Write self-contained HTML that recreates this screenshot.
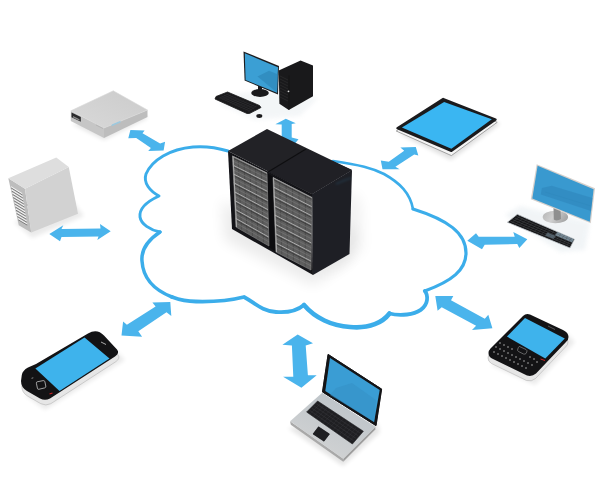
<!DOCTYPE html>
<html><head><meta charset="utf-8">
<style>
html,body{margin:0;padding:0;background:#fff;width:600px;height:480px;overflow:hidden;font-family:"Liberation Sans",sans-serif;}
svg{display:block;}
</style></head>
<body>
<svg width="600" height="480" viewBox="0 0 600 480">
<defs>
  <filter id="blur6" x="-50%" y="-50%" width="200%" height="200%"><feGaussianBlur stdDeviation="7"/></filter>
  <filter id="blur1" x="-50%" y="-50%" width="200%" height="200%"><feGaussianBlur stdDeviation="1"/></filter>
  <filter id="blur2" x="-50%" y="-50%" width="200%" height="200%"><feGaussianBlur stdDeviation="2"/></filter>
  <linearGradient id="pizzatop" x1="0" y1="1" x2="1" y2="0"><stop offset="0" stop-color="#d9d9d9"/><stop offset="1" stop-color="#cbcbcb"/></linearGradient>
  <linearGradient id="lapbase" x1="0" y1="1" x2="0.6" y2="0"><stop offset="0" stop-color="#d6d6d6"/><stop offset="1" stop-color="#bcc3c8"/></linearGradient>
  <linearGradient id="standg" x1="0" y1="0" x2="1" y2="0.3"><stop offset="0" stop-color="#b5b5b5"/><stop offset="0.5" stop-color="#d0d0d0"/><stop offset="1" stop-color="#a8a8a8"/></linearGradient>
  <linearGradient id="sideg" x1="0" y1="0" x2="1" y2="0">
    <stop offset="0" stop-color="#1f2024"/><stop offset="1" stop-color="#26272c"/>
  </linearGradient>
</defs>
<rect width="600" height="480" fill="#fff"/>
<!-- rack shadow -->
<polygon points="222,200 300,250 355,225 350,260 313,285 225,240" fill="#000" opacity="0.08" filter="url(#blur6)"/>
<polygon points="345,190 360,200 362,250 318,280 345,250" fill="#000" opacity="0.06" filter="url(#blur6)"/>
<path fill="none" stroke="#3badea" stroke-width="2.9" stroke-linejoin="round" stroke-linecap="round" d="M228,151 C218,148 205,146 193,147 C170,149 152,160 146,174 C143,183 150,191 159,196 C146,202 139,209 140,217 C141,224 150,230 160,232"/>
<path fill="none" stroke="#3badea" stroke-width="3.5" stroke-linejoin="round" stroke-linecap="round" d="M160,232 C148,240 141,250 142,261 C143,278 154,290 172,297"/>
<path fill="none" stroke="#3badea" stroke-width="3.8" stroke-linejoin="round" stroke-linecap="round" d="M172,297 C180,300 188,301.5 196,301.5 C215,302 232,300 244,297 C255,303 262,311 276,312 C288,313 298,310 304,305"/>
<path fill="none" stroke="#3badea" stroke-width="4.6" stroke-linejoin="round" stroke-linecap="round" d="M304,305 C315,318 332,326 350,327 C370,329 383,322 389.5,313.5"/>
<path fill="none" stroke="#3badea" stroke-width="3.8" stroke-linejoin="round" stroke-linecap="round" d="M389.5,313.5 C395,315 401,315 407,314.5 C418,313.5 426,308 427,300 C427.5,296 426.5,293 424.8,291"/>
<path fill="none" stroke="#3badea" stroke-width="3.2" stroke-linejoin="round" stroke-linecap="round" d="M424.8,291 C452,281 466,270 466,253 C466,233 448,220 413,209"/>
<path fill="none" stroke="#3badea" stroke-width="2.6" stroke-linejoin="round" stroke-linecap="round" d="M413,209 C410,193 400,183 384,174 C372,168 360,165 333,161"/>
<!-- desktop PC -->
<g id="desktop">
  <polygon points="222,96 262,90 318,98 300,116 255,120 220,104" fill="#dfe6ea" opacity="0.35" filter="url(#blur2)"/>
  <polygon points="216,96.5 227.5,92 259.5,105.5 261,107.5 249.5,113.5 247,113.5 215,99" fill="#1a1a1c" stroke="#1a1a1c" stroke-width="0.8" stroke-linejoin="round"/>
  <line x1="226.3" y1="94.2" x2="256.4" y2="107.1" stroke="#38383c" stroke-width="0.4"/>
  <line x1="224.0" y1="95.3" x2="254.2" y2="108.5" stroke="#38383c" stroke-width="0.4"/>
  <line x1="221.6" y1="96.4" x2="252.0" y2="110.0" stroke="#38383c" stroke-width="0.4"/>
  <line x1="219.5" y1="97.4" x2="250.0" y2="111.3" stroke="#38383c" stroke-width="0.4"/>
  <line x1="228.6" y1="93.9" x2="219.3" y2="98.4" stroke="#333337" stroke-width="0.35"/>
  <line x1="231.2" y1="94.9" x2="221.9" y2="99.6" stroke="#333337" stroke-width="0.35"/>
  <line x1="233.7" y1="96.0" x2="224.5" y2="100.8" stroke="#333337" stroke-width="0.35"/>
  <line x1="236.3" y1="97.1" x2="227.1" y2="102.0" stroke="#333337" stroke-width="0.35"/>
  <line x1="238.9" y1="98.2" x2="229.7" y2="103.2" stroke="#333337" stroke-width="0.35"/>
  <line x1="241.4" y1="99.3" x2="232.3" y2="104.4" stroke="#333337" stroke-width="0.35"/>
  <line x1="244.0" y1="100.4" x2="234.9" y2="105.6" stroke="#333337" stroke-width="0.35"/>
  <line x1="246.6" y1="101.5" x2="237.6" y2="106.8" stroke="#333337" stroke-width="0.35"/>
  <line x1="249.1" y1="102.6" x2="240.2" y2="108.0" stroke="#333337" stroke-width="0.35"/>
  <line x1="251.7" y1="103.7" x2="242.8" y2="109.2" stroke="#333337" stroke-width="0.35"/>
  <line x1="254.3" y1="104.8" x2="245.4" y2="110.4" stroke="#333337" stroke-width="0.35"/>
  <line x1="256.8" y1="105.8" x2="248.0" y2="111.6" stroke="#333337" stroke-width="0.35"/>
  <ellipse cx="259.3" cy="116" rx="3" ry="1.9" fill="#1a1a1c"/>
  <ellipse cx="260" cy="93" rx="8.8" ry="3.9" fill="#1a1a1c"/>
  <polygon points="258,82 262,83.5 262,93 258,93" fill="#1a1a1c"/>
  <polygon points="243.5,51.5 279,66 278,94.5 244.6,80.6" fill="#1c1c1e"/>
  <polygon points="244.8,53.3 278,67.2 277,92.8 245.6,80" fill="#3b9fd4"/>
  <polygon points="257.5,76.5 269,70.8 277.6,74.2 277.2,92.8" fill="#2f88bb" opacity="0.75"/>
  <polygon points="278.75,70.6 300.6,60.6 313,65.6 313,96.25 288.75,110 279.4,103.75" fill="#19191b"/>
  <line x1="289" y1="75.5" x2="289" y2="110" stroke="#111" stroke-width="0.6"/>
  <g stroke="#2c2c2e" stroke-width="0.7">
    <line x1="280" y1="76" x2="288" y2="80"/><line x1="280" y1="79" x2="288" y2="83"/>
    <line x1="280" y1="82" x2="288" y2="86"/><line x1="280" y1="85" x2="288" y2="89"/>
    <line x1="280" y1="88" x2="288" y2="92"/><line x1="280" y1="91" x2="288" y2="95"/>
    <line x1="280" y1="94" x2="288" y2="98"/><line x1="280" y1="97" x2="288" y2="101"/>
  </g>
  <circle cx="288.5" cy="91.3" r="0.9" fill="#ddd"/>
</g>

<!-- pizza box server -->
<g id="pizza">
  <polygon points="72,124 104,140 148,118 140,112" fill="#000" opacity="0.10" filter="url(#blur2)"/>
  <polygon points="70.8,110.8 104,128 104,138 70.8,121" fill="#c6c6c6"/>
  <polygon points="104,128 147.5,110 147.5,117 104,138" fill="#bdbdbd"/>
  <polygon points="70.8,110.8 113.3,90.8 147.5,110 104,128" fill="url(#pizzatop)" stroke="#dadada" stroke-width="0.6" stroke-linejoin="round"/>
  <polygon points="71.5,112.5 80.8,117 80.8,121.8 71.5,117.3" fill="#2a2a2c"/>
  <polygon points="73,116 79.5,119.2 79.5,120.8 73,117.6" fill="#8a8a8a"/>
  <line x1="96" y1="125" x2="103" y2="128.5" stroke="#aaa" stroke-width="0.6"/>
  <polygon points="111.7,124.5 120.5,120.8 120.5,122.6 111.7,126.3" fill="#9cc8de"/>
</g>

<!-- tower server -->
<g id="tower">
  <polygon points="14,222 32,238 84,216 72,200" fill="#000" opacity="0.08" filter="url(#blur2)"/>
  <polygon points="8.3,178.3 25,188.75 31.25,232.5 18.75,225.2" fill="#bdbdbd"/>
  <line x1="10.9" y1="186.8" x2="22.1" y2="193.7" stroke="#f2f2f2" stroke-width="1.3"/><line x1="11.1" y1="187.9" x2="22.2" y2="194.8" stroke="#6a6a6a" stroke-width="0.8"/><line x1="11.6" y1="189.9" x2="22.6" y2="196.7" stroke="#f2f2f2" stroke-width="1.3"/><line x1="11.8" y1="191.1" x2="22.7" y2="197.9" stroke="#6a6a6a" stroke-width="0.8"/><line x1="12.3" y1="193.1" x2="23.1" y2="199.8" stroke="#f2f2f2" stroke-width="1.3"/><line x1="12.5" y1="194.3" x2="23.2" y2="200.9" stroke="#6a6a6a" stroke-width="0.8"/><line x1="13.0" y1="196.3" x2="23.6" y2="202.8" stroke="#f2f2f2" stroke-width="1.3"/><line x1="13.2" y1="197.5" x2="23.7" y2="203.9" stroke="#6a6a6a" stroke-width="0.8"/><line x1="13.7" y1="199.5" x2="24.1" y2="205.8" stroke="#f2f2f2" stroke-width="1.3"/><line x1="13.9" y1="200.7" x2="24.2" y2="206.9" stroke="#6a6a6a" stroke-width="0.8"/><line x1="14.4" y1="202.7" x2="24.5" y2="208.9" stroke="#f2f2f2" stroke-width="1.3"/><line x1="14.6" y1="203.8" x2="24.7" y2="210.0" stroke="#6a6a6a" stroke-width="0.8"/><line x1="15.1" y1="205.8" x2="25.0" y2="211.9" stroke="#f2f2f2" stroke-width="1.3"/><line x1="15.3" y1="207.0" x2="25.2" y2="213.0" stroke="#6a6a6a" stroke-width="0.8"/><line x1="15.8" y1="209.0" x2="25.5" y2="214.9" stroke="#f2f2f2" stroke-width="1.3"/><line x1="16.0" y1="210.2" x2="25.7" y2="216.0" stroke="#6a6a6a" stroke-width="0.8"/><line x1="16.4" y1="212.2" x2="26.0" y2="217.9" stroke="#f2f2f2" stroke-width="1.3"/><line x1="16.7" y1="213.4" x2="26.2" y2="219.1" stroke="#6a6a6a" stroke-width="0.8"/><line x1="17.1" y1="215.4" x2="26.5" y2="221.0" stroke="#f2f2f2" stroke-width="1.3"/><line x1="17.4" y1="216.5" x2="26.7" y2="222.1" stroke="#6a6a6a" stroke-width="0.8"/><line x1="17.8" y1="218.6" x2="27.0" y2="224.0" stroke="#f2f2f2" stroke-width="1.3"/><line x1="18.1" y1="219.7" x2="27.2" y2="225.1" stroke="#6a6a6a" stroke-width="0.8"/>
  <polygon points="25,188.75 68.75,166.9 78,213.75 31.25,232.5" fill="#d2d2d2"/>
  <polygon points="8.3,178.3 56.25,157.5 68.75,166.9 25,188.75" fill="#dedede"/>
  <circle cx="27" cy="205" r="0.8" fill="#aaa"/>
</g>

<!-- tablet -->
<g id="tablet">
  <polygon points="398,133 451,160 500,124 490,118" fill="#000" opacity="0.12" filter="url(#blur2)"/>
  <polygon points="396.2,131 443.2,101 497.2,122.3 451.4,155.6" fill="#f4f4f4" stroke="#9a9a9a" stroke-width="0.9" stroke-linejoin="round"/>
  <polygon points="397.5,128.2 443.2,99 495.5,119.5 451.4,150.8" fill="#1b1b1d" stroke="#1b1b1d" stroke-width="2.4" stroke-linejoin="round"/>
  <polygon points="401.9,127.6 444.1,101.9 491.8,119.3 451.4,148.7" fill="#3ab6f2"/>
</g>

<!-- right monitor -->
<g id="imac">
  <polygon points="505,215 520,206 590,222 585,250 560,252" fill="#d8e2e8" opacity="0.35" filter="url(#blur2)"/>
  <ellipse cx="555.4" cy="217" rx="12.7" ry="6.2" fill="url(#standg)"/>
  <path d="M553.5,208 L560.5,209 L561,219 Q557,221.5 553.8,219.5 Z" fill="#8f8f8f"/>
  <polygon points="536.7,164.2 595,188.3 590.8,223.3 530.8,199.2" fill="#d6d0cc"/>
  <polygon points="537.6,165.8 593.6,189.2 589.8,221.8 532.3,198.4" fill="#3999cf"/>
  <polygon points="541.9,188 551.7,185.8 592.5,198 591,211 540.8,194.5" fill="#2f86ba" opacity="0.6"/>
  <line x1="545" y1="192" x2="591" y2="206" stroke="#2f86ba" stroke-width="0.8" opacity="0.5"/>
  <polygon points="517.3,214.3 574.5,239.2 570,248 507.3,222.3" fill="#141416" stroke="#c5ccd0" stroke-width="0.8" stroke-linejoin="round"/>
  <polygon points="557.1,232.1 573.7,239.3 572.1,242.5 554.9,235.2" fill="#8aa2b2" opacity="0.85"/>
  <polygon points="547.4,232.6 555.8,236.1 553.7,239.1 545.0,235.5" fill="#6d8494" opacity="0.7"/>
  <line x1="516.5" y1="216.4" x2="572.4" y2="240.5" stroke="#55595d" stroke-width="0.45"/>
  <line x1="514.5" y1="218.0" x2="571.5" y2="242.2" stroke="#55595d" stroke-width="0.45"/>
  <line x1="512.5" y1="219.6" x2="570.6" y2="244.0" stroke="#55595d" stroke-width="0.45"/>
  <line x1="510.5" y1="221.2" x2="569.7" y2="245.7" stroke="#55595d" stroke-width="0.45"/>
  <line x1="520.2" y1="216.2" x2="511.5" y2="223.4" stroke="#44474a" stroke-width="0.4"/>
  <line x1="523.6" y1="217.6" x2="515.1" y2="224.9" stroke="#44474a" stroke-width="0.4"/>
  <line x1="526.9" y1="219.1" x2="518.8" y2="226.4" stroke="#44474a" stroke-width="0.4"/>
  <line x1="530.3" y1="220.6" x2="522.5" y2="227.9" stroke="#44474a" stroke-width="0.4"/>
  <line x1="533.7" y1="222.0" x2="526.2" y2="229.4" stroke="#44474a" stroke-width="0.4"/>
  <line x1="537.1" y1="223.5" x2="529.8" y2="231.0" stroke="#44474a" stroke-width="0.4"/>
  <line x1="540.5" y1="225.0" x2="533.5" y2="232.5" stroke="#44474a" stroke-width="0.4"/>
  <line x1="543.8" y1="226.4" x2="537.2" y2="234.0" stroke="#44474a" stroke-width="0.4"/>
  <line x1="547.2" y1="227.9" x2="540.8" y2="235.5" stroke="#44474a" stroke-width="0.4"/>
  <line x1="550.6" y1="229.4" x2="544.5" y2="237.0" stroke="#44474a" stroke-width="0.4"/>
  <line x1="554.0" y1="230.8" x2="548.2" y2="238.5" stroke="#44474a" stroke-width="0.4"/>
  <line x1="557.4" y1="232.3" x2="551.9" y2="240.0" stroke="#44474a" stroke-width="0.4"/>
  <line x1="560.8" y1="233.8" x2="555.5" y2="241.5" stroke="#44474a" stroke-width="0.4"/>
  <line x1="564.1" y1="235.2" x2="559.2" y2="243.0" stroke="#44474a" stroke-width="0.4"/>
  <line x1="567.5" y1="236.7" x2="562.9" y2="244.5" stroke="#44474a" stroke-width="0.4"/>
  <line x1="570.9" y1="238.2" x2="566.6" y2="246.1" stroke="#44474a" stroke-width="0.4"/>
</g>
</g>

<!-- smartphone -->
<g id="phone">
  <polygon points="25,395 45,410 125,360 115,350" fill="#000" opacity="0.08" filter="url(#blur2)"/>
  <path transform="translate(0.8,5.2)" d="M36,364 L88,333.5 Q97,328 104,335.5 L117,349.5 Q120,353 115,356.5 L50,398.5 Q45,401 40,398.5 L27,391 Q21,387.5 21,381 L21.8,375 Q22.5,370.5 28,367.5 Z" fill="#e6e6e6" stroke="#b5b5b5" stroke-width="0.6"/>
  <path d="M36,364 L88,333.5 Q97,328 104,335.5 L117,349.5 Q120,353 115,356.5 L50,398.5 Q45,401 40,398.5 L27,391 Q21,387.5 21,381 L21.8,375 Q22.5,370.5 28,367.5 Z" fill="#131315"/>
  <polygon points="35.4,368.4 84.5,337.4 109.5,358.5 59.5,391" fill="#3eb3ec"/>
  <path d="M37.2,381.8 L43.2,380.6 Q44.6,380.4 44.9,381.8 L45.8,386.2 Q46,387.5 44.7,387.9 L38.8,389.3 Q37.6,389.5 37.4,388.2 L36.4,383.3 Q36.2,382 37.2,381.8 Z" fill="none" stroke="#dcdcdc" stroke-width="0.7"/>
  <line x1="31.5" y1="378.3" x2="33.3" y2="377.8" stroke="#bbb" stroke-width="0.7"/>
  <line x1="49.5" y1="394" x2="52.5" y2="393" stroke="#c22" stroke-width="1.2"/>
  <line x1="101" y1="342" x2="106" y2="344.5" stroke="#aaa" stroke-width="1"/>
</g>

<!-- blackberry -->
<g id="bb">
  <polygon points="490,365 535,385 575,342 565,332" fill="#000" opacity="0.08" filter="url(#blur2)"/>
  <path transform="translate(-0.5,5)" d="M490.5,348.5 L523,316 Q526,313 530,314.5 L563,330 Q568.5,332.5 568.5,337 Q568.5,340 566,342 L536,373.5 Q532,377 527,375.5 L492,358.5 Q488.5,356.5 488.5,353 Q488.5,350.5 490.5,348.5 Z" fill="#e6e6e6" stroke="#b5b5b5" stroke-width="0.6"/>
  <path d="M490.5,348.5 L523,316 Q526,313 530,314.5 L563,330 Q568.5,332.5 568.5,337 Q568.5,340 566,342 L536,373.5 Q532,377 527,375.5 L492,358.5 Q488.5,356.5 488.5,353 Q488.5,350.5 490.5,348.5 Z" fill="#131315"/>
  <polygon points="525,318 564.8,338.4 545.3,358.4 506.9,336.6" fill="#3eb3ec"/>
  <path d="M519.5,346.5 L526,349.5 Q527.5,350.5 526.8,352 L526,353.5 Q525,354.5 523.5,354 L518.5,351.5 Q517,350.5 517.8,349 L518.5,347.3 Q519,346.3 519.5,346.5 Z" fill="none" stroke="#999" stroke-width="0.6"/>
  <line x1="540.5" y1="359" x2="545" y2="360.5" stroke="#c22" stroke-width="1"/>
  <line x1="548" y1="326" x2="555" y2="329.5" stroke="#666" stroke-width="0.8"/>
  <g fill="#cfcfcf">
    <circle cx="500" cy="343" r="0.7"/><circle cx="504" cy="345" r="0.7"/><circle cx="508" cy="347" r="0.7"/><circle cx="512" cy="349" r="0.7"/>
    <circle cx="496" cy="347" r="0.7"/><circle cx="500" cy="349" r="0.7"/><circle cx="504" cy="351" r="0.7"/><circle cx="508" cy="353" r="0.7"/><circle cx="512" cy="355" r="0.7"/>
    <circle cx="494" cy="352" r="0.7"/><circle cx="498" cy="354" r="0.7"/><circle cx="502" cy="356" r="0.7"/><circle cx="506" cy="358" r="0.7"/><circle cx="510" cy="360" r="0.7"/>
    <circle cx="516" cy="357" r="0.7"/><circle cx="520" cy="359" r="0.7"/><circle cx="524" cy="361" r="0.7"/><circle cx="528" cy="363" r="0.7"/><circle cx="532" cy="365" r="0.7"/>
    <circle cx="514" cy="362" r="0.7"/><circle cx="518" cy="364" r="0.7"/><circle cx="522" cy="366" r="0.7"/><circle cx="526" cy="368" r="0.7"/>
    <circle cx="530" cy="357" r="0.7"/><circle cx="534" cy="359" r="0.7"/><circle cx="537" cy="362" r="0.7"/>
  </g>
</g>

<!-- laptop -->
<g id="laptop">
  <polygon points="288,428 343,466 380,432 376,420" fill="#000" opacity="0.10" filter="url(#blur2)"/>
  <polygon points="290.1,421.2 343.25,458.75 343.25,461.8 290.8,424.8" fill="#a9a9a9"/>
  <polygon points="343.25,458.75 375.3,426.7 375.3,429.5 343.25,461.8" fill="#9e9e9e"/>
  <polygon points="290.1,421.2 322.2,392.75 375.3,426.7 343.25,458.75" fill="url(#lapbase)"/>
  <polygon points="317.6,401 363.4,431.25 352.4,444 306.6,412" fill="#1f1f22" stroke="#1f1f22" stroke-width="0.6" stroke-linejoin="round"/>
  <line x1="316.3" y1="403.8" x2="360.3" y2="433.2" stroke="#3c3c40" stroke-width="0.45"/><line x1="314.1" y1="406.0" x2="358.1" y2="435.7" stroke="#3c3c40" stroke-width="0.45"/><line x1="311.9" y1="408.2" x2="355.9" y2="438.3" stroke="#3c3c40" stroke-width="0.45"/><line x1="309.7" y1="410.4" x2="353.7" y2="440.8" stroke="#3c3c40" stroke-width="0.45"/><line x1="320.3" y1="403.7" x2="310.4" y2="413.7" stroke="#38383c" stroke-width="0.4"/><line x1="323.6" y1="405.9" x2="313.7" y2="416.0" stroke="#38383c" stroke-width="0.4"/><line x1="326.9" y1="408.1" x2="317.0" y2="418.3" stroke="#38383c" stroke-width="0.4"/><line x1="330.1" y1="410.2" x2="320.2" y2="420.6" stroke="#38383c" stroke-width="0.4"/><line x1="333.4" y1="412.4" x2="323.5" y2="422.8" stroke="#38383c" stroke-width="0.4"/><line x1="336.7" y1="414.6" x2="326.8" y2="425.1" stroke="#38383c" stroke-width="0.4"/><line x1="339.9" y1="416.7" x2="330.1" y2="427.4" stroke="#38383c" stroke-width="0.4"/><line x1="343.2" y1="418.9" x2="333.3" y2="429.7" stroke="#38383c" stroke-width="0.4"/><line x1="346.5" y1="421.1" x2="336.6" y2="432.0" stroke="#38383c" stroke-width="0.4"/><line x1="349.8" y1="423.2" x2="339.9" y2="434.2" stroke="#38383c" stroke-width="0.4"/><line x1="353.0" y1="425.4" x2="343.1" y2="436.5" stroke="#38383c" stroke-width="0.4"/><line x1="356.3" y1="427.6" x2="346.4" y2="438.8" stroke="#38383c" stroke-width="0.4"/><line x1="359.6" y1="429.7" x2="349.7" y2="441.1" stroke="#38383c" stroke-width="0.4"/>
  <polygon points="318.5,426.7 329.5,434 324,441.3 313,434" fill="#1f1f22" stroke="#1f1f22" stroke-width="0.5" stroke-linejoin="round"/>
  <polygon points="328.1,354.4 381.6,389.1 376,425.6 322.5,391.9" fill="#141416" stroke="#141416" stroke-width="0.8" stroke-linejoin="round"/>
  <polygon points="330,358.1 379.7,390 374.1,421.9 325.3,391" fill="#3a9dd4"/>
  <polygon points="335.6,389 345,385.3 363.8,394.7 369.4,392 379,398 374.1,421.9 325.3,391" fill="#3390c5" opacity="0.7"/>
</g>
  <polygon points="318.5,426.7 329.5,434 324,441.3 313,434" fill="#1f1f22"/>
  <polygon points="328.1,354.4 381.6,389.1 376,425.6 322.5,391.9" fill="#141416" stroke="#141416" stroke-width="0.8" stroke-linejoin="round"/>
  <polygon points="330,358.1 379.7,390 374.1,421.9 325.3,391" fill="#3a9dd4"/>
  <polygon points="336,388 352,383 376,400 374.1,421.9 330,395" fill="#3591c6" opacity="0.6"/>
</g>


<g fill="#4ab4ec">
  <polygon points="130.4,130 144.6,130.4 142.5,133.3 160.1,143.5 165.1,141.7 163.6,150.4 148.2,151 150.9,147.9 136.25,137.9 128.3,138.3"/>
  <polygon points="49.3,234 63.3,225.3 61.5,229 100.5,228.5 100,224 110.7,231.3 97.3,240 98.5,236.5 61.5,237 60,241.3"/>
  <polygon points="285.8,118.75 295.8,123.3 291.7,124 291.7,137.5 298.5,139.2 288,152 274,137.5 281.7,137.5 281.7,124.5 275.4,124.2"/>
  <polygon points="400.4,147.5 415.8,147.1 418.3,155.4 414.2,154.6 395.4,166.7 399.6,169.2 382.5,169.2 380.8,160.4 388.75,161.7 404.2,150.8"/>
  <polygon points="467.3,240.7 476,233.3 478.7,236.7 514.7,236.7 513.3,232 527.3,239.3 519.3,248 517.3,244 484.7,244.7 482,249.3"/>
  <polygon points="435.3,296.1 453.3,296.1 451,300.2 484.8,318.8 488.3,314.8 492.4,328.2 472,329.9 476.1,325.8 441.7,307.2 437.6,310.7"/>
  <polygon points="297.7,334.5 313,343.2 305.7,345.4 307.9,375.3 316.7,375.3 301.4,387.7 283.1,376.8 293.3,376.8 291.9,345.4 282.4,344.7"/>
  <polygon points="152.4,302.6 170.3,302 171.3,316.1 166.5,312.3 138.3,331.3 142.1,336.7 121.5,335.6 123.1,321.5 126.9,324.8 155.6,306.4"/>
</g>

<g id="rack">
  <polygon points="228,151 267,129 352,170 312,194" fill="#222226"/>
  <polygon points="305,149 352,170 312,194 268,172" fill="#202025"/>
  <line x1="268" y1="172" x2="306" y2="149" stroke="#0e0e10" stroke-width="1.1"/>
  <polygon points="228,151 312,194 313,275 232,229" fill="#141418"/>
  <polygon points="312,194 352,170 349.5,254 313,275" fill="#1e1f25"/>
  <path d="M336,184 Q345,180 351,178" stroke="#3ea8e2" stroke-width="2" opacity="0.12" filter="url(#blur1)" fill="none"/>
  <polygon points="267,173 273,177 276,252 269,247" fill="#0d0d10"/>
  <polygon points="232.5,156.0 267.0,173.0 269.0,246.0 236.0,227.0" fill="#5e5e5e"/>
<line x1="238.2" y1="158.8" x2="241.5" y2="230.2" stroke="#474747" stroke-width="0.7"/>
<line x1="244.0" y1="161.7" x2="247.0" y2="233.3" stroke="#474747" stroke-width="0.7"/>
<line x1="249.8" y1="164.5" x2="252.5" y2="236.5" stroke="#474747" stroke-width="0.7"/>
<line x1="255.5" y1="167.3" x2="258.0" y2="239.7" stroke="#474747" stroke-width="0.7"/>
<line x1="261.2" y1="170.2" x2="263.5" y2="242.8" stroke="#474747" stroke-width="0.7"/>
<line x1="232.5" y1="156.2" x2="267.0" y2="173.2" stroke="#b5b5b5" stroke-width="0.9"/>
<line x1="232.6" y1="158.0" x2="267.1" y2="175.0" stroke="#333" stroke-width="0.7"/>
<line x1="232.7" y1="160.9" x2="267.1" y2="178.0" stroke="#7a7a7a" stroke-width="0.6"/>
<line x1="232.9" y1="165.1" x2="267.3" y2="182.3" stroke="#b5b5b5" stroke-width="0.9"/>
<line x1="233.0" y1="166.8" x2="267.3" y2="184.1" stroke="#333" stroke-width="0.7"/>
<line x1="233.2" y1="169.8" x2="267.4" y2="187.1" stroke="#7a7a7a" stroke-width="0.6"/>
<line x1="233.4" y1="173.9" x2="267.5" y2="191.4" stroke="#b5b5b5" stroke-width="0.9"/>
<line x1="233.5" y1="175.7" x2="267.6" y2="193.3" stroke="#333" stroke-width="0.7"/>
<line x1="233.6" y1="178.6" x2="267.6" y2="196.3" stroke="#7a7a7a" stroke-width="0.6"/>
<line x1="233.8" y1="182.8" x2="267.8" y2="200.6" stroke="#b5b5b5" stroke-width="0.9"/>
<line x1="233.9" y1="184.6" x2="267.8" y2="202.4" stroke="#333" stroke-width="0.7"/>
<line x1="234.1" y1="187.5" x2="267.9" y2="205.4" stroke="#7a7a7a" stroke-width="0.6"/>
<line x1="234.3" y1="191.7" x2="268.0" y2="209.7" stroke="#b5b5b5" stroke-width="0.9"/>
<line x1="234.3" y1="193.5" x2="268.1" y2="211.5" stroke="#333" stroke-width="0.7"/>
<line x1="234.5" y1="196.4" x2="268.1" y2="214.5" stroke="#7a7a7a" stroke-width="0.6"/>
<line x1="234.7" y1="200.6" x2="268.3" y2="218.8" stroke="#b5b5b5" stroke-width="0.9"/>
<line x1="234.8" y1="202.3" x2="268.3" y2="220.6" stroke="#333" stroke-width="0.7"/>
<line x1="234.9" y1="205.3" x2="268.4" y2="223.6" stroke="#7a7a7a" stroke-width="0.6"/>
<line x1="235.1" y1="209.4" x2="268.5" y2="227.9" stroke="#b5b5b5" stroke-width="0.9"/>
<line x1="235.2" y1="211.2" x2="268.6" y2="229.8" stroke="#333" stroke-width="0.7"/>
<line x1="235.4" y1="214.1" x2="268.6" y2="232.8" stroke="#7a7a7a" stroke-width="0.6"/>
<line x1="235.6" y1="218.3" x2="268.8" y2="237.1" stroke="#b5b5b5" stroke-width="0.9"/>
<line x1="235.7" y1="220.1" x2="268.8" y2="238.9" stroke="#333" stroke-width="0.7"/>
<line x1="235.8" y1="223.0" x2="268.9" y2="241.9" stroke="#7a7a7a" stroke-width="0.6"/>
<line x1="233.0" y1="156.0" x2="236.5" y2="227.0" stroke="#b8b8b8" stroke-width="1.1"/>
<polygon points="232.5,156.0 267.0,173.0 269.0,246.0 236.0,227.0" fill="none" stroke="#8a8a8a" stroke-width="0.6"/>
  <polygon points="273.0,177.5 312.0,197.5 311.0,270.0 276.0,252.0" fill="#5e5e5e"/>
<line x1="279.5" y1="180.8" x2="281.8" y2="255.0" stroke="#474747" stroke-width="0.7"/>
<line x1="286.0" y1="184.2" x2="287.7" y2="258.0" stroke="#474747" stroke-width="0.7"/>
<line x1="292.5" y1="187.5" x2="293.5" y2="261.0" stroke="#474747" stroke-width="0.7"/>
<line x1="299.0" y1="190.8" x2="299.3" y2="264.0" stroke="#474747" stroke-width="0.7"/>
<line x1="305.5" y1="194.2" x2="305.2" y2="267.0" stroke="#474747" stroke-width="0.7"/>
<line x1="273.0" y1="177.7" x2="312.0" y2="197.7" stroke="#b5b5b5" stroke-width="0.9"/>
<line x1="273.1" y1="179.5" x2="312.0" y2="199.5" stroke="#333" stroke-width="0.7"/>
<line x1="273.2" y1="182.6" x2="311.9" y2="202.5" stroke="#7a7a7a" stroke-width="0.6"/>
<line x1="273.4" y1="187.0" x2="311.9" y2="206.7" stroke="#b5b5b5" stroke-width="0.9"/>
<line x1="273.5" y1="188.9" x2="311.8" y2="208.6" stroke="#333" stroke-width="0.7"/>
<line x1="273.6" y1="191.9" x2="311.8" y2="211.5" stroke="#7a7a7a" stroke-width="0.6"/>
<line x1="273.8" y1="196.3" x2="311.7" y2="215.8" stroke="#b5b5b5" stroke-width="0.9"/>
<line x1="273.8" y1="198.2" x2="311.7" y2="217.6" stroke="#333" stroke-width="0.7"/>
<line x1="274.0" y1="201.2" x2="311.7" y2="220.6" stroke="#7a7a7a" stroke-width="0.6"/>
<line x1="274.1" y1="205.6" x2="311.6" y2="224.9" stroke="#b5b5b5" stroke-width="0.9"/>
<line x1="274.2" y1="207.5" x2="311.6" y2="226.7" stroke="#333" stroke-width="0.7"/>
<line x1="274.3" y1="210.6" x2="311.6" y2="229.7" stroke="#7a7a7a" stroke-width="0.6"/>
<line x1="274.5" y1="214.9" x2="311.5" y2="233.9" stroke="#b5b5b5" stroke-width="0.9"/>
<line x1="274.6" y1="216.8" x2="311.5" y2="235.7" stroke="#333" stroke-width="0.7"/>
<line x1="274.7" y1="219.9" x2="311.4" y2="238.7" stroke="#7a7a7a" stroke-width="0.6"/>
<line x1="274.9" y1="224.2" x2="311.4" y2="243.0" stroke="#b5b5b5" stroke-width="0.9"/>
<line x1="275.0" y1="226.1" x2="311.3" y2="244.8" stroke="#333" stroke-width="0.7"/>
<line x1="275.1" y1="229.2" x2="311.3" y2="247.8" stroke="#7a7a7a" stroke-width="0.6"/>
<line x1="275.3" y1="233.6" x2="311.2" y2="252.1" stroke="#b5b5b5" stroke-width="0.9"/>
<line x1="275.3" y1="235.4" x2="311.2" y2="253.9" stroke="#333" stroke-width="0.7"/>
<line x1="275.5" y1="238.5" x2="311.2" y2="256.9" stroke="#7a7a7a" stroke-width="0.6"/>
<line x1="275.6" y1="242.9" x2="311.1" y2="261.1" stroke="#b5b5b5" stroke-width="0.9"/>
<line x1="275.7" y1="244.7" x2="311.1" y2="262.9" stroke="#333" stroke-width="0.7"/>
<line x1="275.8" y1="247.8" x2="311.1" y2="265.9" stroke="#7a7a7a" stroke-width="0.6"/>
<line x1="273.5" y1="177.5" x2="276.5" y2="252.0" stroke="#b8b8b8" stroke-width="1.1"/>
<polygon points="273.0,177.5 312.0,197.5 311.0,270.0 276.0,252.0" fill="none" stroke="#8a8a8a" stroke-width="0.6"/>
</g>
</svg>
</body></html>
